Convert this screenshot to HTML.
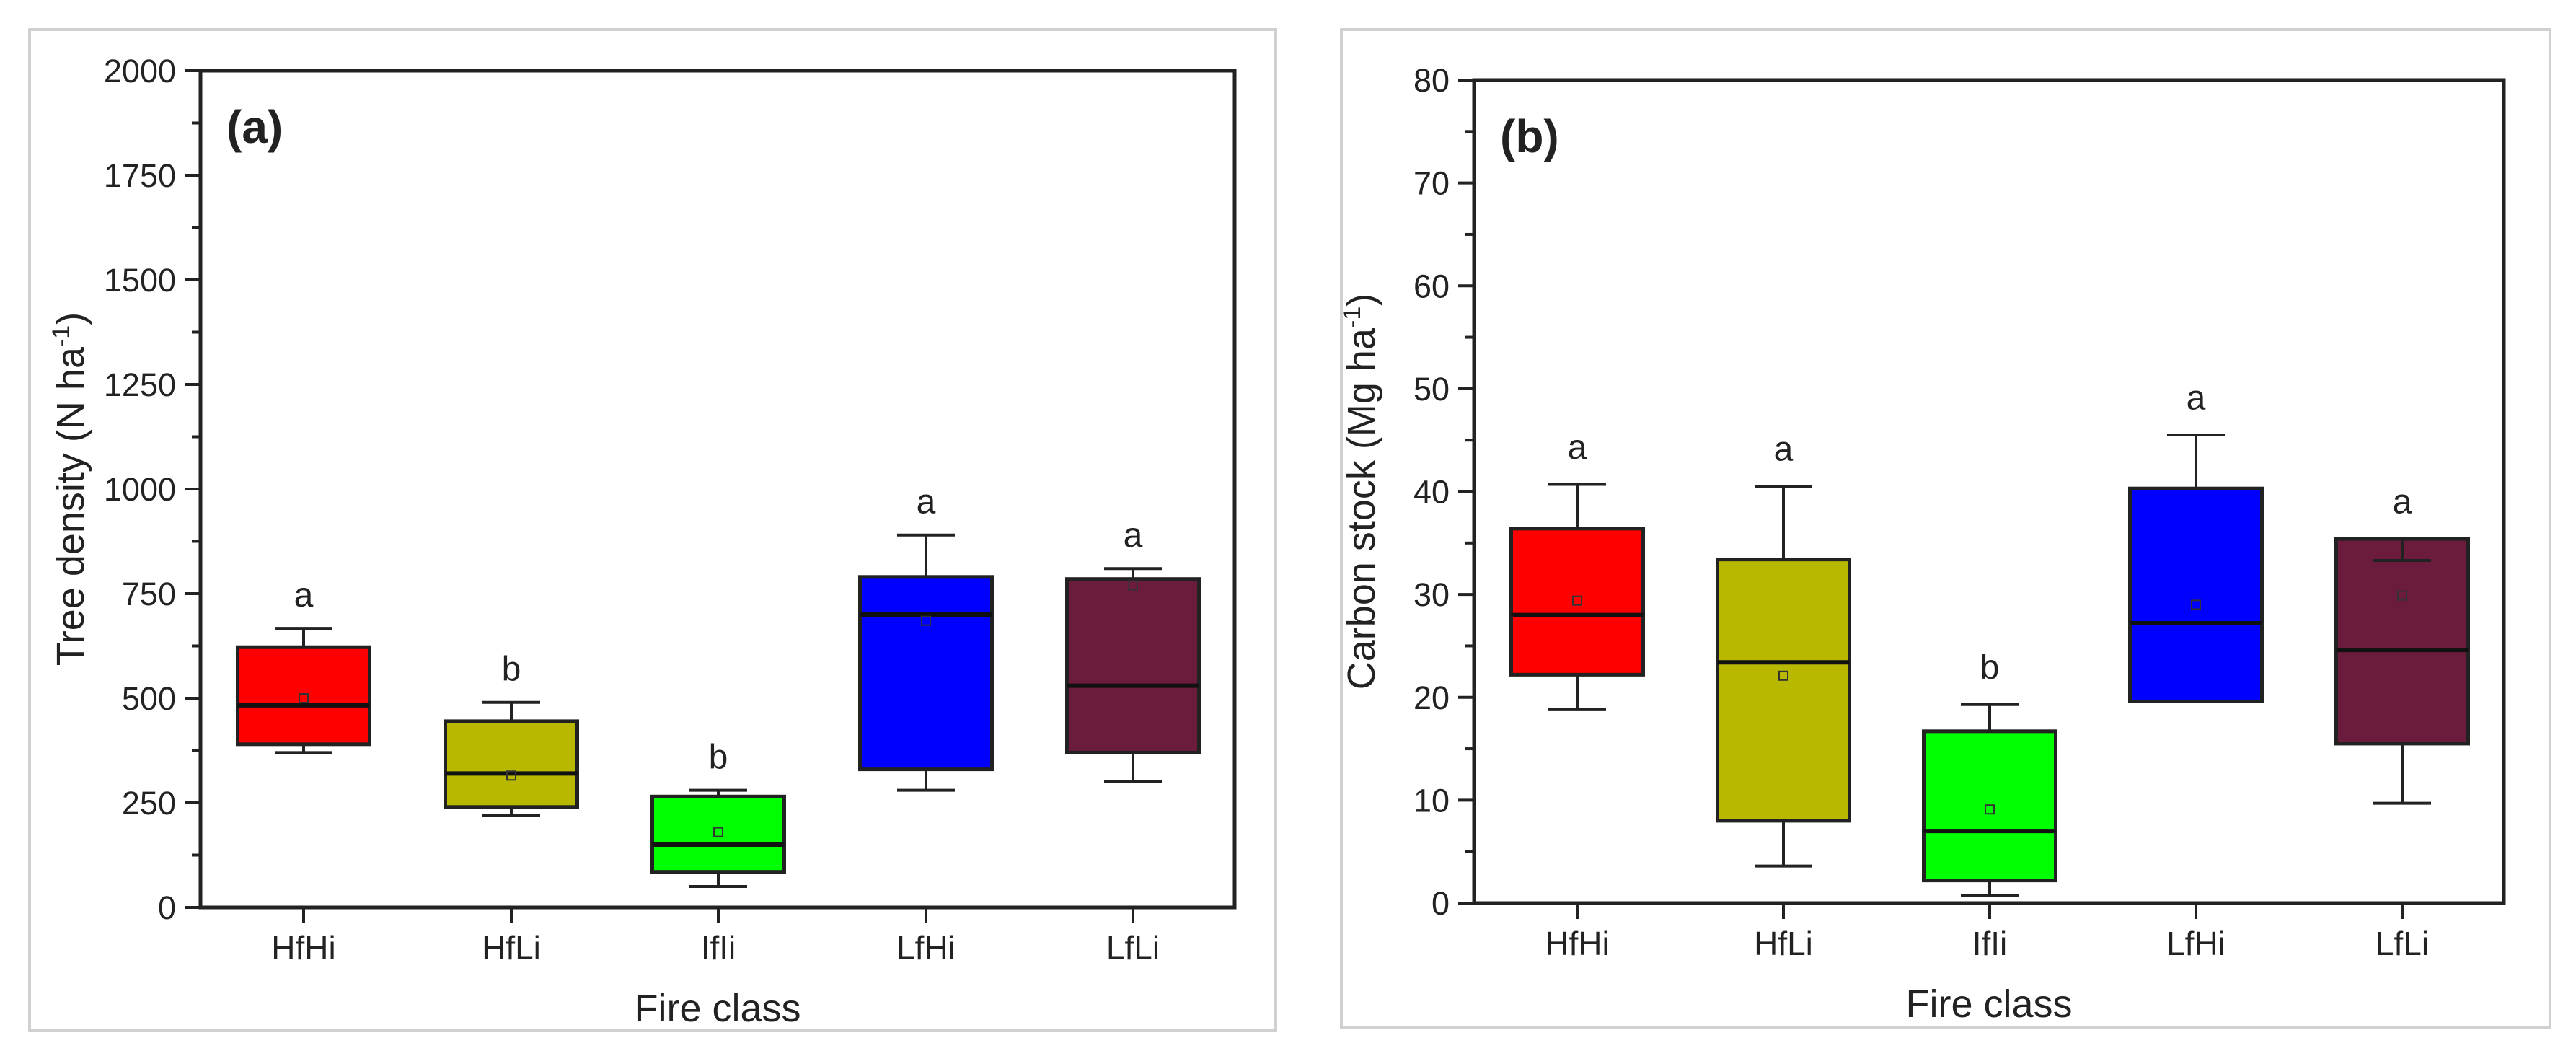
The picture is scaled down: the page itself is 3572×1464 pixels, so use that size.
<!DOCTYPE html>
<html><head><meta charset="utf-8"><style>
html,body{margin:0;padding:0;background:#fff}
svg{display:block}
text{font-family:"Liberation Sans",sans-serif;fill:#222}
</style></head><body>
<svg id="chart" width="3572" height="1464" viewBox="0 0 3572 1464" xmlns="http://www.w3.org/2000/svg">
<rect x="41" y="41" width="1728" height="1388" fill="none" stroke="#d0d0d0" stroke-width="4"/>
<rect x="1860" y="41" width="1676" height="1383" fill="none" stroke="#d0d0d0" stroke-width="4"/>
<g id="pa"></g>
<g id="pb"></g>
</svg>
<script>
const categories = ["HfHi","HfLi","IfIi","LfHi","LfLi"];
const colors = ["#ff0000","#b8b800","#00ff00","#0000ff","#6b1b3b"];
// Panel a: tree density
const aMin = [370,220,50,280,300];
const aQ1 = [390,240,85,330,370];
const aMed = [483,320,150,700,530];
const aQ3 = [622,445,265,790,785];
const aMax = [667,490,280,890,810];
const aMean = [500,315,180,685,770];
const aLetters = ["a","b","b","a","a"];
const aTicks = [0,250,500,750,1000,1250,1500,1750,2000];
// Panel b: carbon stock
const bMin = [18.8,3.6,0.7,19.6,9.7];
const bQ1 = [22.2,8,2.2,19.6,15.5];
const bMed = [28,23.4,7,27.2,24.6];
const bQ3 = [36.4,33.4,16.7,40.3,35.4];
const bMax = [40.7,40.5,19.3,45.5,33.3];
const bMean = [29.4,22.1,9.1,29,29.9];
const bLetters = ["a","a","b","a","a"];
const bTicks = [0,10,20,30,40,50,60,70,80];

const NS="http://www.w3.org/2000/svg";
function mk(parent,tag,attrs,txt){const e=document.createElementNS(NS,tag);for(const k in attrs)e.setAttribute(k,attrs[k]);if(txt!==undefined)e.textContent=txt;parent.appendChild(e);return e;}

function panel(g,cfg){
  const {L,R,T,B,ymax,ticks,mins,q1,med,q3,maxs,means,letters,label,ytitle,ysup,letterOff,cats}=cfg;
  const y=v=>B-(v/ymax)*(B-T);
  const x=i=>cats[i];
  const bw=183, cw=80;
  for(let i=0;i<ticks.length-1;i++){
    const m=(ticks[i]+ticks[i+1])/2;
    const t=mk(g,'line',{x1:L-12,x2:L,y1:y(m),y2:y(m),stroke:'#222','stroke-width':4});
    
    
  }
  ticks.forEach(v=>{
    const t=mk(g,'line',{x1:L-22,x2:L,y1:y(v),y2:y(v),stroke:'#222','stroke-width':4});
    
    
    const tl=mk(g,'text',{x:L-34,y:y(v)+16,'text-anchor':'end','font-size':45},String(v));
    
    
  });
  for(let i=0;i<mins.length;i++){
    const cx=x(i);
    const grp=mk(g,'g',{});
    
    
    const whiskTop=Math.max(q3[i],maxs[i]);
    mk(grp,'rect',{x:cx-bw/2,y:y(q3[i]),width:bw,height:y(q1[i])-y(q3[i]),fill:colors[i],stroke:'#222','stroke-width':5});
    mk(grp,'line',{x1:cx,x2:cx,y1:y(q3[i]),y2:y(maxs[i]),stroke:'#222','stroke-width':4});
    mk(grp,'line',{x1:cx,x2:cx,y1:y(q1[i]),y2:y(mins[i]),stroke:'#222','stroke-width':4});
    mk(grp,'line',{x1:cx-cw/2,x2:cx+cw/2,y1:y(maxs[i]),y2:y(maxs[i]),stroke:'#222','stroke-width':4});
    mk(grp,'line',{x1:cx-cw/2,x2:cx+cw/2,y1:y(mins[i]),y2:y(mins[i]),stroke:'#222','stroke-width':4});
    mk(grp,'line',{x1:cx-bw/2,x2:cx+bw/2,y1:y(med[i]),y2:y(med[i]),stroke:'#111','stroke-width':6});
    mk(grp,'rect',{x:cx-6,y:y(means[i])-6,width:12,height:12,fill:'none',stroke:'#333','stroke-width':2});
    const lt=mk(g,'text',{x:cx,y:y(whiskTop+letterOff),'text-anchor':'middle','font-size':48},letters[i]);
    
    
    const xt=mk(g,'line',{x1:cx,x2:cx,y1:B,y2:B+22,stroke:'#222','stroke-width':4});
    
    
    const xl=mk(g,'text',{x:cx,y:B+72,'text-anchor':'middle','font-size':46},categories[i]);
    
    
  }
  const ax=mk(g,'rect',{x:L,y:T,width:R-L,height:B-T,fill:'none',stroke:'#222','stroke-width':5});
  
  
  const pl=mk(g,'text',{x:L+36,y:T+100,'font-size':64,'font-weight':'bold','font-family':'Liberation Serif, serif'},label);
  
  
  const xt=mk(g,'text',{x:(L+R)/2,y:B+158,'text-anchor':'middle','font-size':54},'Fire class');
  
  
  const yt=mk(g,'text',{transform:`translate(${cfg.ytx},${(T+B)/2}) rotate(-90)`,'text-anchor':'middle','font-size':54});
  
  
  mk(yt,'tspan',{},ytitle);
  mk(yt,'tspan',{dy:-20,'font-size':34},ysup);
  mk(yt,'tspan',{dy:20},')');
}
panel(document.getElementById('pa'),{L:278,R:1712,T:98,B:1258,ymax:2000,ticks:aTicks,mins:aMin,q1:aQ1,med:aMed,q3:aQ3,maxs:aMax,means:aMean,letters:aLetters,label:'(a)',ytitle:'Tree density (N ha',ysup:'-1',letterOff:52,cats:[421,709,996,1284,1571],ytx:116});
panel(document.getElementById('pb'),{L:2044,R:3472,T:111,B:1252,ymax:80,ticks:bTicks,mins:bMin,q1:bQ1,med:bMed,q3:bQ3,maxs:bMax,means:bMean,letters:bLetters,label:'(b)',ytitle:'Carbon stock (Mg ha',ysup:'-1',letterOff:2.5,cats:[2187,2473,2759,3045,3331],ytx:1906});
</script>
</body></html>
